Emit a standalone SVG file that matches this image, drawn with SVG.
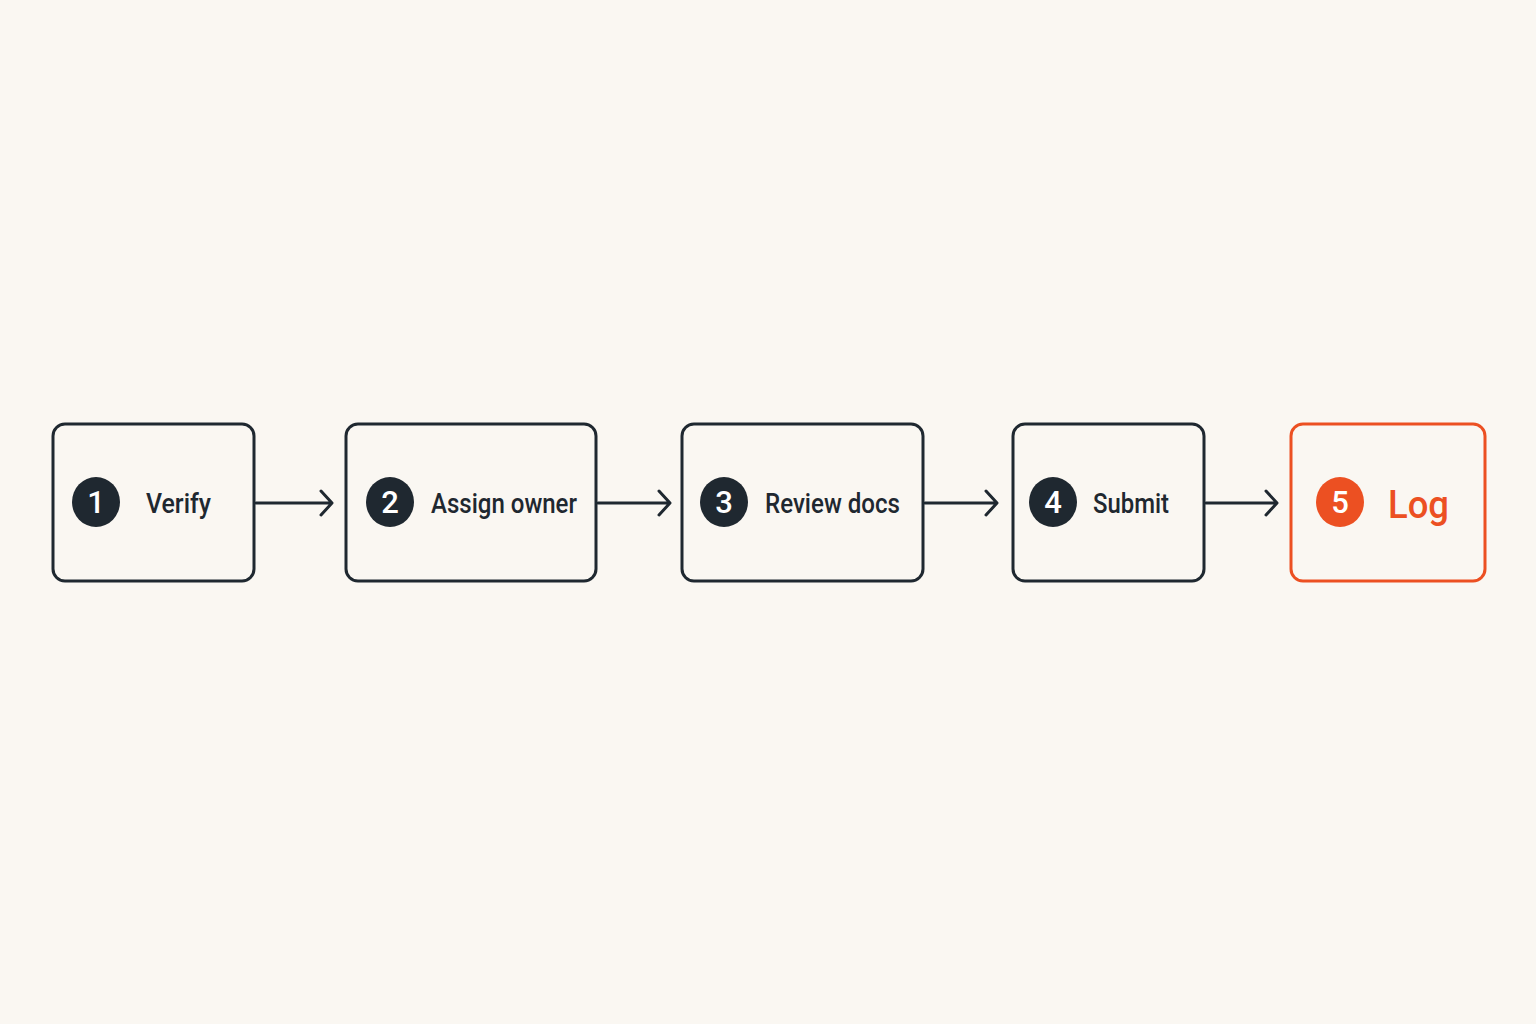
<svg xmlns="http://www.w3.org/2000/svg" width="1536" height="1024" viewBox="0 0 1536 1024">
<style>
.box{fill:none;stroke:#1f2830;stroke-width:3}
.boxo{fill:none;stroke:#ec5022;stroke-width:3}
.badge{fill:#1f2830}
.badgeo{fill:#ec5022}
.num{font-family:Roboto,"Liberation Sans",sans-serif;font-size:31px;font-weight:500;fill:#ffffff;text-anchor:middle}
.lbl{font-family:Roboto,"Liberation Sans",sans-serif;font-size:27px;font-weight:500;fill:#1f2830}
.lblo{font-family:Roboto,"Liberation Sans",sans-serif;font-size:38px;font-weight:500;fill:#ec5022}
.conn{fill:none;stroke:#1f2830;stroke-width:3;stroke-linecap:round;stroke-linejoin:round}
</style>
<rect width="1536" height="1024" fill="#faf7f2"/>
<g id="connectors">
<path class="conn" d="M256 503H331M321 491L332 503L321 515"/>
<path class="conn" d="M598 503H669M659 491L670 503L659 515"/>
<path class="conn" d="M925 503H996M986 491L997 503L986 515"/>
<path class="conn" d="M1206 503H1276M1266 491L1277 503L1266 515"/>
</g>
<g id="node1">
<rect class="box" x="53" y="424" width="201" height="157" rx="12"/>
<ellipse class="badge" cx="96" cy="502" rx="24" ry="25"/>
<text class="num" x="96" y="513">1</text>
<text class="lbl" x="146" y="513" textLength="65" lengthAdjust="spacingAndGlyphs">Verify</text>
</g>
<g id="node2">
<rect class="box" x="346" y="424" width="250" height="157" rx="12"/>
<ellipse class="badge" cx="390" cy="502" rx="24" ry="25"/>
<text class="num" x="390" y="513">2</text>
<text class="lbl" x="431" y="513" textLength="146" lengthAdjust="spacingAndGlyphs">Assign owner</text>
</g>
<g id="node3">
<rect class="box" x="682" y="424" width="241" height="157" rx="12"/>
<ellipse class="badge" cx="724" cy="502" rx="24" ry="25"/>
<text class="num" x="724" y="513">3</text>
<text class="lbl" x="765" y="513" textLength="135" lengthAdjust="spacingAndGlyphs">Review docs</text>
</g>
<g id="node4">
<rect class="box" x="1013" y="424" width="191" height="157" rx="12"/>
<ellipse class="badge" cx="1053" cy="502" rx="24" ry="25"/>
<text class="num" x="1053" y="513">4</text>
<text class="lbl" x="1093" y="513" textLength="76" lengthAdjust="spacingAndGlyphs">Submit</text>
</g>
<g id="node5">
<rect class="boxo" x="1291" y="424" width="194" height="157" rx="12"/>
<ellipse class="badgeo" cx="1340" cy="502" rx="24" ry="25"/>
<text class="num" x="1340" y="513">5</text>
<text class="lblo" x="1388" y="518" textLength="61" lengthAdjust="spacingAndGlyphs">Log</text>
</g>
</svg>
